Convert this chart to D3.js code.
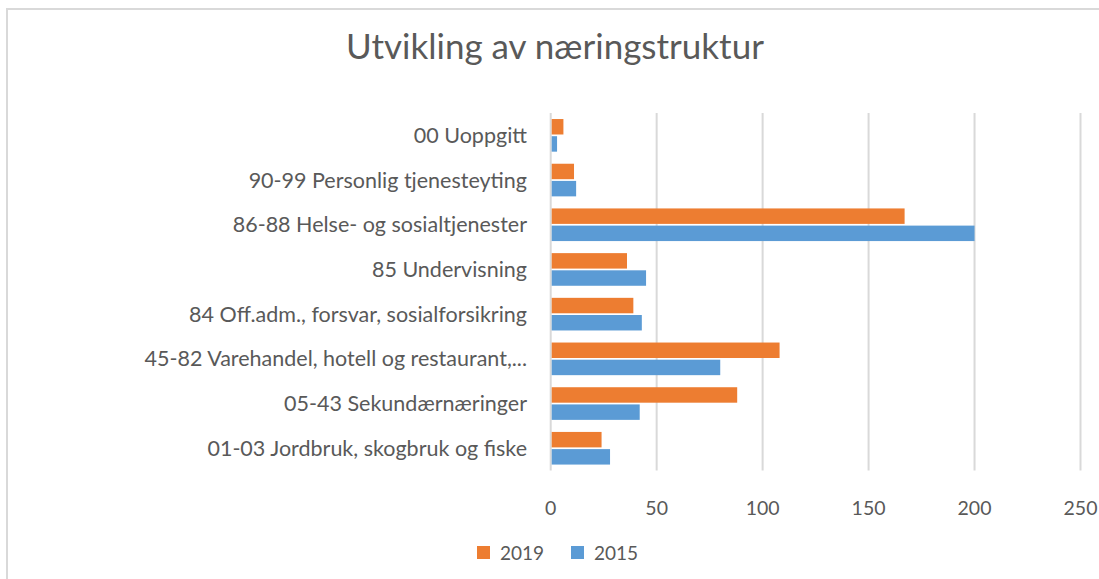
<!DOCTYPE html>
<html>
<head>
<meta charset="utf-8">
<script src="https://cdn.jsdelivr.net/npm/d3@7"></script>
<style>
  body { margin: 0; background: #fff; }
  svg { display: block; font-family: Lato, "Open Sans", sans-serif; }
</style>
</head>
<body>
<svg width="1099" height="579"></svg>
<script>

var svg = d3.select("svg"),
    width = +svg.attr("width"),
    height = +svg.attr("height");

// Data
var categories = [
  "00 Uoppgitt",
  "90-99 Personlig tjenesteyting",
  "86-88 Helse- og sosialtjenester",
  "85 Undervisning",
  "84 Off.adm., forsvar, sosialforsikring",
  "45-82 Varehandel, hotell og restaurant,...",
  "05-43 Sekundærnæringer",
  "01-03 Jordbruk, skogbruk og fiske"
];
var series = ["2019", "2015"];
var values2019 = [6, 11, 167, 36, 39, 108, 88, 24];
var values2015 = [3, 12, 200, 45, 43, 80, 42, 28];
var xTicks = [0, 50, 100, 150, 200, 250];
var colors = ["#ed7d31", "#5b9bd5"];

var rows = categories.map(function (c, i) {
  return { cat: c, vals: [values2019[i], values2015[i]] };
});

// chart frame
svg.append("path")
    .attr("d", "M7," + height + "V9H" + width)
    .attr("fill", "none")
    .attr("stroke", "#d9d9d9")
    .attr("stroke-width", 2);

// Scales
var x = d3.scaleLinear().domain([0, 250]).range([550.7, 1080.5]);
var y = d3.scaleBand().domain(categories).range([113, 470.6]).paddingInner(0.27).paddingOuter(0.135);
var ySub = d3.scaleBand().domain(series).range([0, y.bandwidth()]).paddingInner(0.1);

// Gridlines
svg.append("g")
    .selectAll("line")
    .data(xTicks)
    .enter()
    .append("line")
    .attr("x1", function (d) { return x(d); })
    .attr("x2", function (d) { return x(d); })
    .attr("y1", 113)
    .attr("y2", 470.6)
    .attr("stroke", "#d9d9d9")
    .attr("stroke-width", 2);

// Bars
var groups = svg.append("g")
    .selectAll("g")
    .data(rows)
    .enter()
    .append("g")
    .attr("transform", function (d) { return "translate(0," + y(d.cat) + ")"; });

groups.selectAll("rect")
    .data(function (d) { return d.vals.map(function (v, j) { return { s: series[j], v: v, j: j }; }); })
    .enter()
    .append("rect")
    .attr("x", x(0) + 1)
    .attr("y", function (d) { return ySub(d.s); })
    .attr("height", ySub.bandwidth())
    .attr("width", function (d) { return Math.max(0, x(d.v) - x(0) - 1); })
    .attr("fill", function (d) { return colors[d.j]; });

// Category labels
svg.append("g")
    .selectAll("text")
    .data(categories)
    .enter()
    .append("text")
    .attr("x", 527)
    .attr("y", function (d) { return y(d) + y.bandwidth() / 2; })
    .attr("dy", "0.35em")
    .attr("text-anchor", "end")
    .attr("font-size", 21.5)
    .attr("fill", "#595959")
    .text(function (d) { return d; });

// X tick labels
svg.append("g")
    .selectAll("text")
    .data(xTicks)
    .enter()
    .append("text")
    .attr("x", function (d) { return x(d); })
    .attr("y", 508)
    .attr("dy", "0.35em")
    .attr("text-anchor", "middle")
    .attr("font-size", 19.5)
    .attr("fill", "#595959")
    .text(function (d) { return d; });

// Title
svg.append("text")
    .attr("x", 555)
    .attr("y", 47)
    .attr("dy", "0.35em")
    .attr("text-anchor", "middle")
    .attr("font-size", 35)
    .attr("fill", "#595959")
    .text("Utvikling av næringstruktur");

// Legend
var legendX = [477, 571];
var legend = svg.append("g")
    .selectAll("g")
    .data(series)
    .enter()
    .append("g")
    .attr("transform", function (d, i) { return "translate(" + legendX[i] + ",546)"; });

legend.append("rect")
    .attr("width", 13)
    .attr("height", 13)
    .attr("fill", function (d, i) { return colors[i]; });

legend.append("text")
    .attr("x", 23)
    .attr("y", 7)
    .attr("dy", "0.35em")
    .attr("font-size", 19)
    .attr("fill", "#595959")
    .text(function (d) { return d; });
</script>
</body>
</html>
